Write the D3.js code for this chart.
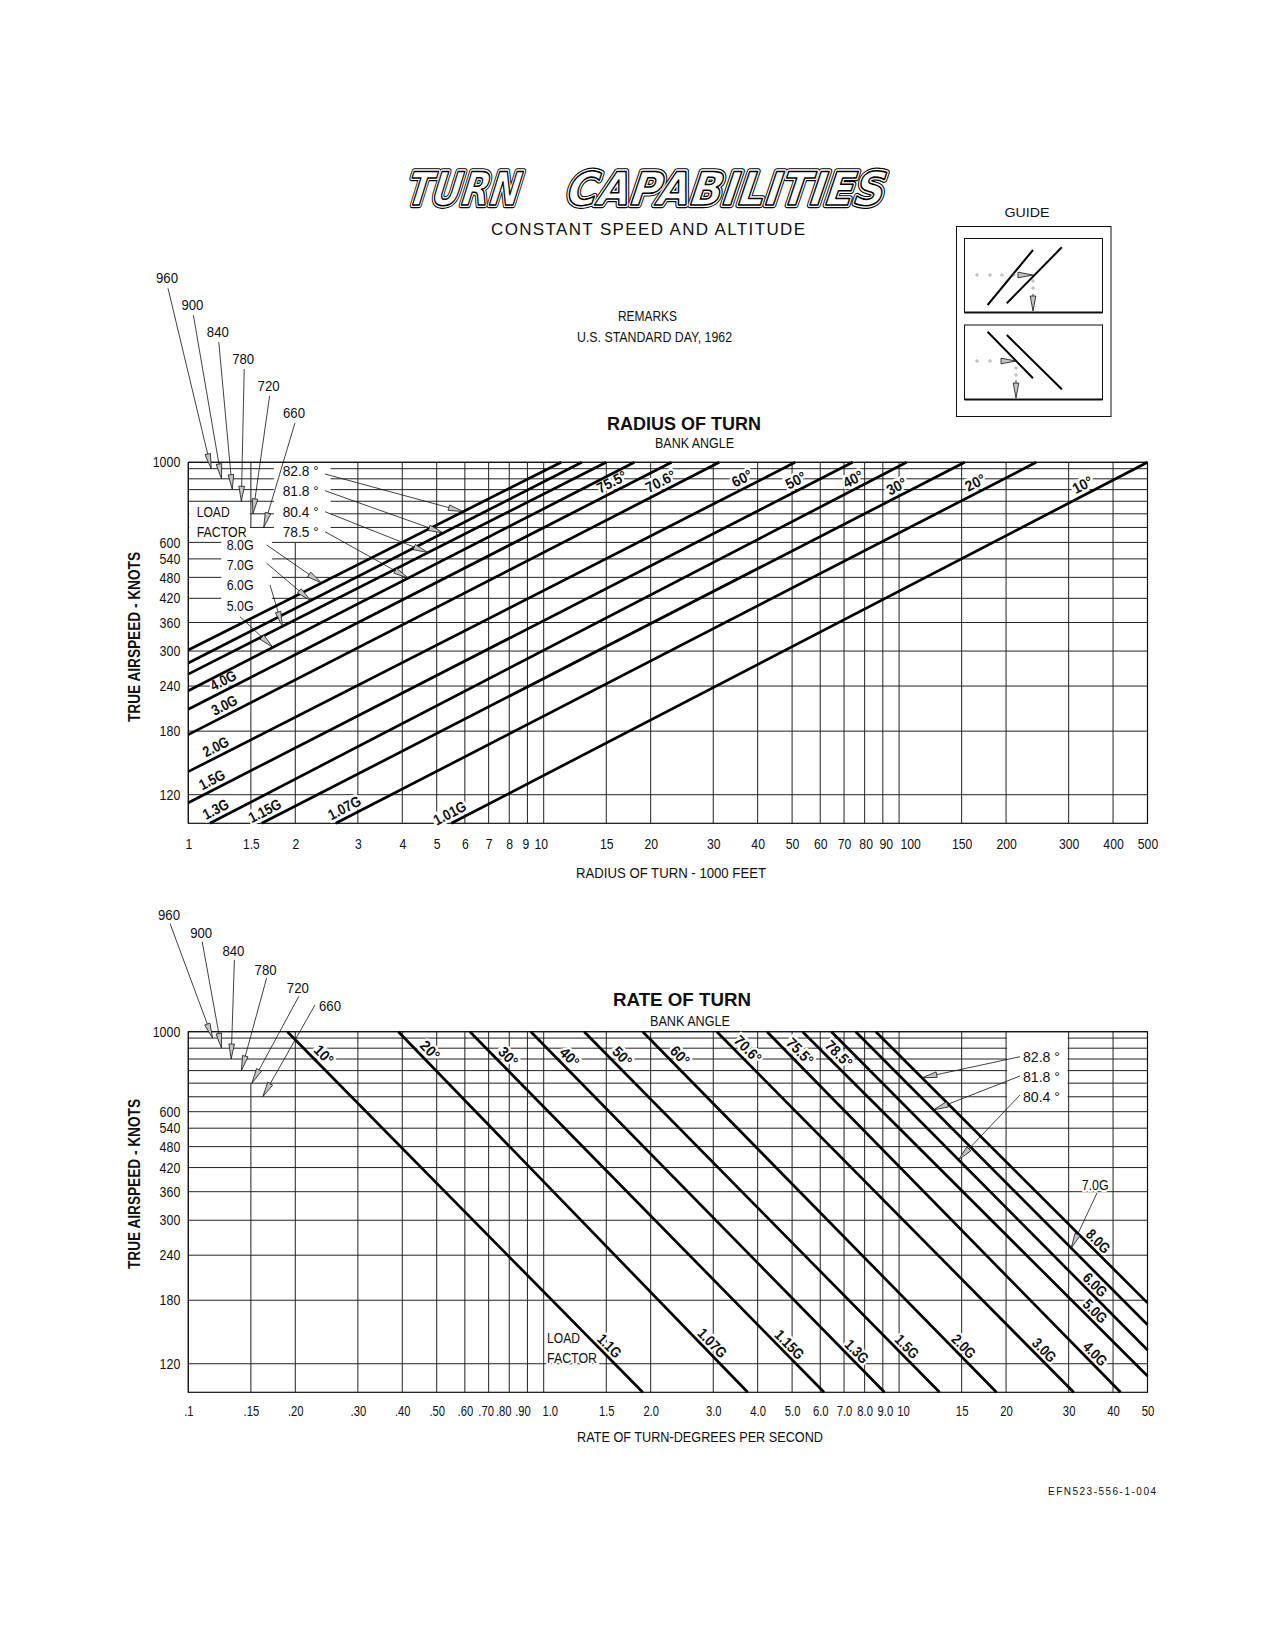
<!DOCTYPE html>
<html>
<head>
<meta charset="utf-8">
<script src="https://cdn.jsdelivr.net/npm/d3@7"></script>
<style>
body { margin: 0; background: #fff; }
svg { display: block; }
</style>
</head>
<body>
<svg id="chart" width="1275" height="1650"></svg>
<script>
/* ---- chart values ---- */
var BANK_ANGLES   = ["10°", "20°", "30°", "40°", "50°", "60°", "70.6°", "75.5°", "78.5°", "80.4°", "81.8°", "82.8°"];
var RADIUS_LOADS  = ["1.01G", "1.07G", "1.15G", "1.3G", "1.5G", "2.0G", "3.0G", "4.0G", "5.0G", "6.0G", "7.0G", "8.0G"];
var RATE_LOADS    = ["1.1G", "1.07G", "1.15G", "1.3G", "1.5G", "2.0G", "3.0G", "4.0G", "5.0G", "6.0G", "7.0G", "8.0G"];

var SPEED_GRID    = [1000, 960, 900, 840, 780, 720, 660, 600, 540, 480, 420, 360, 300, 240, 180, 120];
var SPEED_TICKS   = [1000, 600, 540, 480, 420, 360, 300, 240, 180, 120];
var ARROW_SPEEDS  = [960, 900, 840, 780, 720, 660];

var RADIUS_TICKS  = [1, 1.5, 2, 3, 4, 5, 6, 7, 8, 9, 10, 15, 20, 30, 40, 50, 60, 70, 80, 90, 100, 150, 200, 300, 400, 500];
var RADIUS_LABELS = ["1", "1.5", "2", "3", "4", "5", "6", "7", "8", "9", "10", "15", "20", "30", "40", "50", "60", "70", "80", "90", "100", "150", "200", "300", "400", "500"];
var RATE_TICKS    = [0.1, 0.15, 0.2, 0.3, 0.4, 0.5, 0.6, 0.7, 0.8, 0.9, 1, 1.5, 2, 3, 4, 5, 6, 7, 8, 9, 10, 15, 20, 30, 40, 50];
var RATE_LABELS   = [".1", ".15", ".20", ".30", ".40", ".50", ".60", ".70", ".80", ".90", "1.0", "1.5", "2.0", "3.0", "4.0", "5.0", "6.0", "7.0", "8.0", "9.0", "10", "15", "20", "30", "40", "50"];

/* radius of turn (1000 ft): where each bank line meets 1000 kt, and where it leaves the grid lower down [radius, knots] */
var RADIUS_AT_1000 = [500, 243, 153, 105, 74, 51, 31.2, 22.9, 18.0, 15.0, 12.8, 11.2];
var RADIUS_LOW_END = [[5.5, 100], [2.6, 100], [1.61, 100], [1.15, 100], [1, 114], [1, 139], [1, 176], [1, 207], [1, 233], [1, 259], [1, 278], [1, 302]];

/* rate of turn (deg/s): same idea */
var RATE_AT_1000 = [0.19, 0.39, 0.62, 0.92, 1.3, 1.9, 3.07, 4.25, 5.35, 6.45, 7.55, 8.6];
var RATE_LOW_END = [[1.9, 100], [3.75, 100], [6.15, 100], [9.1, 100], [13, 100], [18.8, 100], [31, 100], [42, 100], [50, 111], [50, 131], [50, 154], [50, 177]];

/* where the speed arrows at the top left land on their grid lines */
var RADIUS_SPEED_ARROW_AT = [1.16, 1.24, 1.33, 1.41, 1.52, 1.63];
var RATE_SPEED_ARROW_AT   = [0.117, 0.124, 0.132, 0.141, 0.151, 0.162];

var FONT = '"Liberation Sans", Arial, sans-serif';
var INK = "#111";

var svg = d3.select("#chart");
svg.append("rect").attr("width", 1275).attr("height", 1650).attr("fill", "#fff");

/* log-log interpolation along a straight chart line */
function lineAt(p0, p1, xv) {
    var t = (Math.log(xv) - Math.log(p0[0])) / (Math.log(p1[0]) - Math.log(p0[0]));
    return Math.exp(Math.log(p0[1]) + t * (Math.log(p1[1]) - Math.log(p0[1])));
}

/* rough width of a narrow drafting-style string */
function narrowWidth(s, digit, dot) {
    var w = 0;
    for (var i = 0; i < s.length; i++) {
        var c = s[i];
        if (c == ".") w += dot;
        else if (c == "°") w += digit * 0.75;
        else if (c == "G") w += digit * 1.15;
        else w += digit;
    }
    return w;
}

function addText(g, x, y, s, size, opts) {
    opts = opts || {};
    var t = g.append("text")
        .attr("x", x).attr("y", y)
        .style("font-family", opts.family || FONT)
        .style("font-size", size + "px")
        .style("font-weight", opts.weight || "normal")
        .attr("fill", INK)
        .attr("text-anchor", opts.anchor || "start")
        .text(s);
    if (opts.len) t.attr("textLength", opts.len).attr("lengthAdjust", opts.adjust || "spacingAndGlyphs");
    if (opts.halo) t.attr("stroke", "#fff").attr("stroke-width", opts.halo).attr("paint-order", "stroke");
    return t;
}

function arrow(g, x0, y0, x1, y1) {
    var L = Math.hypot(x1 - x0, y1 - y0), ux = (x1 - x0) / L, uy = (y1 - y0) / L;
    var hl = 15, hw = 2.8;
    var bx = x1 - ux * hl, by = y1 - uy * hl;
    g.append("line").attr("x1", x0).attr("y1", y0).attr("x2", bx).attr("y2", by)
        .attr("stroke", INK).attr("stroke-width", 0.8);
    g.append("path")
        .attr("d", "M" + x1 + "," + y1 + "L" + (bx - uy * hw) + "," + (by + ux * hw) + "L" + (bx + uy * hw) + "," + (by - ux * hw) + "Z")
        .attr("fill", "#c4c4c4").attr("stroke", INK).attr("stroke-width", 0.8);
}

/* rotated label sitting beside a chart line */
function lineLabel(g, x, y, p0, p1, xv, s, offset) {
    var ax = x(p0[0]), ay = y(p0[1]), bx = x(p1[0]), by = y(p1[1]);
    var L = Math.hypot(bx - ax, by - ay), dx = (bx - ax) / L, dy = (by - ay) / L;
    if (dx < 0) { dx = -dx; dy = -dy; }
    var deg = Math.atan2(dy, dx) * 180 / Math.PI;
    var cx = x(xv) + dy * offset, cy = y(lineAt(p0, p1, xv)) - dx * offset;
    g.append("text")
        .attr("transform", "translate(" + cx + "," + cy + ") rotate(" + deg + ")")
        .attr("text-anchor", "middle").attr("dy", "0.36em")
        .style("font-family", FONT).style("font-size", "15px").style("font-weight", "bold")
        .attr("textLength", narrowWidth(s, 7.6, 3.2)).attr("lengthAdjust", "spacingAndGlyphs")
        .attr("fill", INK).attr("stroke", "#fff").attr("stroke-width", 5).attr("paint-order", "stroke")
        .text(s);
}

/* grid, knockouts, frame and axes for one panel */
function DrawPanel(g, x, y, opt) {
    var x0 = x.domain()[0], x1 = x.domain()[1];

    g.selectAll(".hgrid").data(SPEED_GRID).enter().append("line")
        .attr("x1", x(x0)).attr("x2", x(x1))
        .attr("y1", function(d) { return y(d); }).attr("y2", function(d) { return y(d); })
        .attr("stroke", "#222").attr("stroke-width", 1);

    opt.ticks.forEach(function(d) {
        opt.vSegments(d).forEach(function(s) {
            g.append("line").attr("x1", x(d)).attr("x2", x(d))
                .attr("y1", y(s[0])).attr("y2", y(s[1]))
                .attr("stroke", "#222").attr("stroke-width", 1);
        });
    });

    opt.knockouts.forEach(function(k) {
        g.append("rect")
            .attr("x", x(k[0]) + 1).attr("width", x(k[1]) - x(k[0]) - 2)
            .attr("y", y(k[2])).attr("height", y(k[3]) - y(k[2]))
            .attr("fill", "#fff");
    });

    g.append("rect").attr("x", x(x0)).attr("y", y(1000))
        .attr("width", x(x1) - x(x0)).attr("height", y(100) - y(1000))
        .attr("fill", "none").attr("stroke", INK).attr("stroke-width", 1.2);

    var ya = g.append("g").attr("transform", "translate(" + x(x0) + ",0)")
        .call(d3.axisLeft(y).tickValues(SPEED_TICKS).tickFormat(d3.format("d")).tickSize(0).tickPadding(8));
    var xa = g.append("g").attr("transform", "translate(0," + y(100) + ")")
        .call(d3.axisBottom(x).tickValues(opt.ticks).tickFormat(function(d, i) { return opt.labels[i]; })
            .tickSize(0).tickPadding(opt.pad));
    [[ya, 6.9], [xa, opt.digit]].forEach(function(a) {
        a[0].select(".domain").remove();
        a[0].attr("font-family", null).attr("font-size", null);
        a[0].selectAll("text")
            .style("font-family", FONT).style("font-size", "14.5px").attr("fill", INK)
            .attr("lengthAdjust", "spacingAndGlyphs")
            .attr("textLength", function() { return narrowWidth(this.textContent, a[1], 3); });
    });
    /* crowded labels sit a little off their ticks in the original drawing */
    xa.selectAll("text").attr("dx", function() { return opt.nudge[this.textContent] || 0; });

    /* y title */
    g.append("text")
        .attr("transform", "translate(140," + opt.yTitleY + ") rotate(-90)")
        .attr("text-anchor", "middle")
        .style("font-family", FONT).style("font-size", "16px").style("font-weight", "bold")
        .attr("textLength", 170).attr("lengthAdjust", "spacingAndGlyphs")
        .attr("fill", INK).text("TRUE AIRSPEED - KNOTS");
}

function DrawLines(g, x, y, tops, lows) {
    var line = d3.line().x(function(d) { return x(d[0]); }).y(function(d) { return y(d[1]); });
    g.selectAll(".bank").data(tops).enter().append("path")
        .attr("d", function(d, i) { return line([[d, 1000], lows[i]]); })
        .attr("fill", "none").attr("stroke", "#000").attr("stroke-width", 2.7);
}

/* ================= heading ================= */
function DrawHeading() {
    var g = svg.append("g");
    [["TURN", 406, 113], ["CAPABILITIES", 566, 318]].forEach(function(w) {
        [[6.5, "#000"], [4.2, "#fff"], [1.5, "#000"]].forEach(function(st, k) {
            g.append("text")
                .attr("transform", "translate(" + w[1] + ",205) skewX(-9)")
                .attr("textLength", w[2]).attr("lengthAdjust", "spacingAndGlyphs")
                .style("font-family", '"DejaVu Sans", sans-serif').style("font-size", "46px")
                .style("font-weight", "bold").style("font-style", "italic")
                .attr("fill", k == 2 ? "#fff" : "none")
                .attr("stroke", st[1]).attr("stroke-width", st[0]).attr("stroke-linejoin", "round")
                .text(w[0]);
        });
    });
    addText(g, 491, 235, "CONSTANT SPEED AND ALTITUDE", 17, { len: 314, adjust: "spacing" });
    addText(g, 647.5, 321, "REMARKS", 14, { anchor: "middle", len: 59 });
    addText(g, 654.5, 342, "U.S. STANDARD DAY, 1962", 14, { anchor: "middle", len: 155 });
    addText(g, 1027, 217, "GUIDE", 13, { anchor: "middle", len: 45 });
    addText(g, 1048, 1495, "EFN523-556-1-004", 10, { len: 108, adjust: "spacing" });

    /* guide sketch */
    g.append("rect").attr("x", 956.5).attr("y", 226.5).attr("width", 154.5).attr("height", 190)
        .attr("fill", "none").attr("stroke", INK).attr("stroke-width", 1);
    [[238.5, 312.5], [325, 399.5]].forEach(function(b) {
        g.append("rect").attr("x", 964.5).attr("y", b[0]).attr("width", 138).attr("height", b[1] - b[0])
            .attr("fill", "none").attr("stroke", INK).attr("stroke-width", 1);
        g.append("line").attr("x1", 964.5).attr("x2", 1102.5).attr("y1", b[1]).attr("y2", b[1])
            .attr("stroke", INK).attr("stroke-width", 2);
    });
    var sketch = [[987.6, 305, 1033, 250], [1006.8, 303.3, 1061.8, 247.3], [987.6, 331.7, 1033, 378.3], [1006.8, 335, 1061.8, 389.3]];
    sketch.forEach(function(s) {
        g.append("line").attr("x1", s[0]).attr("y1", s[1]).attr("x2", s[2]).attr("y2", s[3])
            .attr("stroke", "#000").attr("stroke-width", 2);
    });
    [[977, 275], [990, 275], [1002, 275], [1014, 275], [1033, 281], [1033, 288],
     [977, 361], [990, 361], [1016, 368], [1016, 375]].forEach(function(p) {
        g.append("circle").attr("cx", p[0]).attr("cy", p[1]).attr("r", 1.2)
            .attr("fill", "none").attr("stroke", "#777").attr("stroke-width", 0.6);
    });
    arrow(g, 1019, 275, 1033, 275);
    arrow(g, 1033, 294, 1033, 311);
    arrow(g, 1001, 361, 1016, 361);
    arrow(g, 1016, 380, 1016, 398);
}

/* ================= radius of turn ================= */
function DrawRadiusChart() {
    var g = svg.append("g");
    var x = d3.scaleLog().domain([1, 500]).range([188.3, 1147.5]);
    var y = d3.scaleLog().domain([100, 1000]).range([823.3, 462.3]);

    DrawPanel(g, x, y, {
        ticks: RADIUS_TICKS, labels: RADIUS_LABELS, pad: 15, yTitleY: 637, digit: 6.8,
        nudge: { "9": -2, "10": -3, "80": 1, "90": 3, "100": 11 },
        vSegments: function(d) {
            if (d == 1.5) return [[1000, 660], [372, 100]];
            if (d == 2) return [[600, 100]];
            return [[1000, 100]];
        },
        knockouts: [[1, 1.5, 775, 605], [1.23, 1.73, 615, 372], [1.73, 2.53, 990, 610]]
    });

    addText(g, 684, 430, "RADIUS OF TURN", 18, { anchor: "middle", len: 154, weight: "bold" });
    addText(g, 694.5, 448, "BANK ANGLE", 14, { anchor: "middle", len: 79 });
    addText(g, 671, 878, "RADIUS OF TURN - 1000 FEET", 14, { anchor: "middle", len: 190 });
    addText(g, 196.7, 516.7, "LOAD", 14, { len: 33 });
    addText(g, 196.7, 536.7, "FACTOR", 14, { len: 50 });

    /* labels beside lines */
    var bankAt = [338, 168.6, 101.3, 76.4, 52.7, 37.2, 21.95, 15.99];
    bankAt.forEach(function(xv, i) {
        lineLabel(g, x, y, [RADIUS_AT_1000[i], 1000], RADIUS_LOW_END[i], xv, BANK_ANGLES[i], 10);
    });
    var loadAt = [5.6, 2.83, 1.69, 1.23, 1.2, 1.23, 1.3, 1.29];
    loadAt.forEach(function(xv, i) {
        lineLabel(g, x, y, [RADIUS_AT_1000[i], 1000], RADIUS_LOW_END[i], xv, RADIUS_LOADS[i], 10);
    });

    /* side labels with arrows */
    var bankSide = [[11, 476, 474, 5.94], [10, 496, 490.7, 5.22], [9, 517, 511.7, 4.73], [8, 537, 531.7, 4.16]];
    bankSide.forEach(function(b) {
        addText(g, 282.7, b[1], BANK_ANGLES[b[0]].replace("°", " °"), 14, { len: 36 });
    });
    var loadSide = [[11, 226.7, 550, 266.7, 545, 2.37], [10, 226.7, 570, 266.7, 563.3, 2.21],
                    [9, 226.7, 590, 270, 585, 1.84], [8, 226.7, 611, 240, 616.7, 1.73]];
    loadSide.forEach(function(b) {
        addText(g, b[1], b[2], RADIUS_LOADS[b[0]], 14, { len: 27 });
    });
    ARROW_SPEEDS.forEach(function(v, i) {
        addText(g, 167 + 25.4 * i, 283 + 26.9 * i, String(v), 14.5, { anchor: "middle", len: 22 });
    });

    DrawLines(g, x, y, RADIUS_AT_1000, RADIUS_LOW_END);

    bankSide.forEach(function(b) {
        var i = b[0];
        arrow(g, 325, b[2], x(b[3]), y(lineAt([RADIUS_AT_1000[i], 1000], RADIUS_LOW_END[i], b[3])));
    });
    loadSide.forEach(function(b) {
        var i = b[0];
        arrow(g, b[3], b[4], x(b[5]), y(lineAt([RADIUS_AT_1000[i], 1000], RADIUS_LOW_END[i], b[5])));
    });
    ARROW_SPEEDS.forEach(function(v, i) {
        arrow(g, 168 + 25.4 * i, 288.3 + 26.9 * i, x(RADIUS_SPEED_ARROW_AT[i]), y(v));
    });
}

/* ================= rate of turn ================= */
function DrawRateChart() {
    var g = svg.append("g");
    var x = d3.scaleLog().domain([0.1, 50]).range([188.3, 1147.5]);
    var y = d3.scaleLog().domain([100, 1000]).range([1392.3, 1031.7]);

    DrawPanel(g, x, y, {
        ticks: RATE_TICKS, labels: RATE_LABELS, pad: 13, yTitleY: 1184, digit: 6.3,
        nudge: { ".70": -3, ".80": -6, ".90": -5, "1.0": 6, "9.0": 2, "10": 4 },
        vSegments: function(d) {
            if (d == 0.15) return [[720, 100]];
            return [[1000, 100]];
        },
        knockouts: [[20, 30, 990, 615]]
    });

    addText(g, 682, 1006, "RATE OF TURN", 18, { anchor: "middle", len: 138, weight: "bold" });
    addText(g, 690, 1026, "BANK ANGLE", 14, { anchor: "middle", len: 80 });
    addText(g, 700, 1442, "RATE OF TURN-DEGREES PER SECOND", 14, { anchor: "middle", len: 246 });
    addText(g, 547, 1343, "LOAD", 14, { len: 33, halo: 4 });
    addText(g, 547, 1363, "FACTOR", 14, { len: 50, halo: 4 });

    var bankAt = [0.23, 0.4575, 0.7592, 1.13, 1.59, 2.31, 3.59, 5.03, 6.47];
    bankAt.forEach(function(xv, i) {
        lineLabel(g, x, y, [RATE_AT_1000[i], 1000], RATE_LOW_END[i], xv, BANK_ANGLES[i], 10);
    });
    var loadAt = [1.47, 2.86, 4.72, 7.3, 10.1, 14.6, 24.6, 34.2, 34.2, 34.2, null, 34.9];
    loadAt.forEach(function(xv, i) {
        if (xv == null) return;
        lineLabel(g, x, y, [RATE_AT_1000[i], 1000], RATE_LOW_END[i], xv, RATE_LOADS[i], 9);
    });

    var bankSide = [[11, 1062, 1056.7, 11.6], [10, 1082, 1076, 12.5], [9, 1102, 1095, 14.7]];
    bankSide.forEach(function(b) {
        addText(g, 1023, b[1], BANK_ANGLES[b[0]].replace("°", " °"), 14, { len: 37 });
    });
    addText(g, 1081.7, 1190, RATE_LOADS[10], 14, { len: 27, halo: 4 });
    ARROW_SPEEDS.forEach(function(v, i) {
        addText(g, 169 + 32.2 * i, 920 + 18.2 * i, String(v), 14.5, { anchor: "middle", len: 22 });
    });

    DrawLines(g, x, y, RATE_AT_1000, RATE_LOW_END);

    bankSide.forEach(function(b) {
        var i = b[0];
        arrow(g, 1020, b[2], x(b[3]), y(lineAt([RATE_AT_1000[i], 1000], RATE_LOW_END[i], b[3])));
    });
    arrow(g, 1097, 1193, x(30.5), y(lineAt([RATE_AT_1000[10], 1000], RATE_LOW_END[10], 30.5)));
    ARROW_SPEEDS.forEach(function(v, i) {
        var sx = i == 5 ? 315 : 170 + 32.2 * i, sy = i == 5 ? 1005 : 923.5 + 18.2 * i;
        arrow(g, sx, sy, x(RATE_SPEED_ARROW_AT[i]), y(v));
    });
}

DrawHeading();
DrawRadiusChart();
DrawRateChart();
</script>
</body>
</html>
